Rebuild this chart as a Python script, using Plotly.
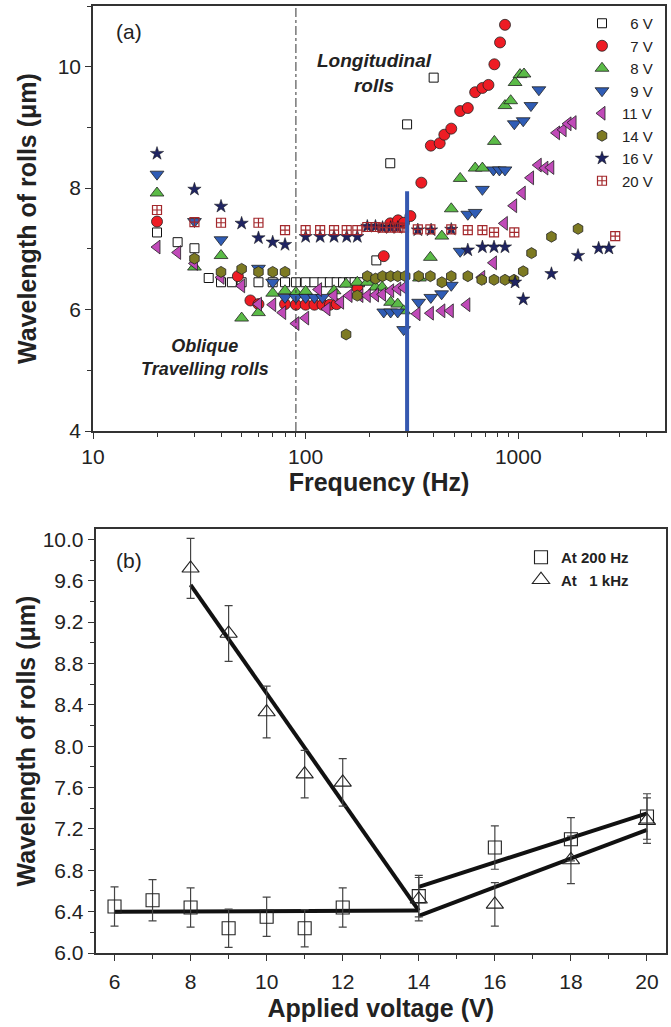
import plotly.graph_objects as go

# ---------------- Panel (a) data: frequency (Hz) vs wavelength (um) ----------------
f_6V = [20, 25, 30, 35, 40, 45, 50, 60, 70, 80, 90, 100, 110, 120, 130, 140, 150, 160, 170, 180, 215, 250, 300, 400]
w_6V = [7.27, 7.11, 7.01, 6.52, 6.45, 6.45, 6.45, 6.45, 6.45, 6.45, 6.45, 6.45, 6.45, 6.45, 6.45, 6.45, 6.45, 6.45, 6.45, 6.45, 6.81, 8.41, 9.05, 9.82]

f_7V = [20, 48, 55, 60, 80, 90, 100, 110, 120, 130, 140, 175, 233, 250, 272, 290, 311, 350, 388, 427, 449, 484, 533, 579, 627, 678, 724, 772, 821, 866]
w_7V = [7.45, 6.55, 6.15, 6.09, 6.09, 6.08, 6.08, 6.08, 6.08, 6.08, 6.09, 6.36, 6.88, 7.42, 7.47, 7.43, 7.54, 8.09, 8.70, 8.74, 8.88, 8.98, 9.27, 9.32, 9.58, 9.65, 9.70, 10.04, 10.40, 10.69]

f_8V = [20, 30, 40, 50, 60, 70, 80, 90, 100, 136, 155, 175, 195, 213, 229, 251, 271, 289, 343, 386, 437, 484, 533, 627, 678, 772, 866, 921, 966, 1019, 1064]
w_8V = [7.92, 6.70, 6.89, 5.86, 5.95, 6.27, 6.31, 6.28, 6.30, 6.31, 6.42, 6.45, 6.45, 6.37, 6.37, 6.12, 6.09, 5.98, 6.52, 6.86, 7.21, 7.66, 8.16, 8.33, 8.33, 8.77, 9.36, 9.44, 9.74, 9.87, 9.88]

f_9V = [20, 30, 40, 60, 70, 80, 90, 100, 110, 120, 233, 251, 271, 289, 340, 388, 436, 484, 533, 579, 627, 678, 764, 815, 866, 958, 1055, 1147, 1250]
w_9V = [8.23, 7.45, 7.15, 6.68, 6.45, 6.20, 6.20, 6.20, 6.20, 6.20, 5.96, 5.96, 5.96, 5.67, 6.12, 6.20, 6.26, 6.40, 6.96, 7.57, 7.60, 7.98, 8.30, 8.30, 8.30, 9.06, 9.11, 9.36, 9.62]

f_11V = [20, 25, 30, 40, 50, 60, 70, 78, 90, 100, 115, 126, 136, 146, 160, 180, 195, 213, 230, 251, 271, 290, 334, 386, 437, 479, 573, 673, 764, 860, 951, 1044, 1142, 1241, 1334, 1422, 1513, 1625, 1714, 1810]
w_11V = [7.03, 6.94, 6.76, 6.53, 6.39, 6.09, 6.08, 5.95, 5.77, 5.86, 6.33, 6.01, 6.23, 6.12, 6.23, 6.23, 6.23, 6.24, 6.25, 6.31, 6.34, 6.36, 5.93, 5.94, 5.98, 5.98, 6.08, 6.53, 6.77, 7.42, 7.71, 7.92, 8.17, 8.38, 8.33, 8.34, 8.91, 8.96, 9.06, 9.08]

f_14V = [30, 40, 50, 60, 70, 80, 155, 175, 195, 213, 230, 251, 271, 294, 340, 386, 437, 484, 579, 673, 769, 866, 955, 1055, 1154, 1432, 1910]
w_14V = [6.84, 6.62, 6.67, 6.62, 6.62, 6.62, 5.59, 6.23, 6.55, 6.51, 6.55, 6.55, 6.55, 6.55, 6.55, 6.55, 6.45, 6.55, 6.55, 6.49, 6.49, 6.49, 6.49, 6.63, 6.93, 7.20, 7.33]

f_16V = [20, 30, 40, 50, 60, 70, 80, 100, 117, 136, 156, 175, 195, 213, 230, 251, 271, 337, 389, 484, 579, 678, 769, 866, 966, 1055, 1432, 1910, 2388, 2668]
w_16V = [8.57, 7.98, 7.70, 7.42, 7.18, 7.11, 7.07, 7.20, 7.20, 7.20, 7.20, 7.20, 7.37, 7.37, 7.35, 7.35, 7.35, 7.31, 7.31, 7.32, 6.98, 7.03, 7.03, 7.03, 6.45, 6.17, 6.59, 6.89, 7.01, 7.01]

f_20V = [20, 30, 40, 60, 80, 100, 117, 136, 156, 175, 195, 213, 230, 251, 271, 290, 337, 386, 484, 579, 678, 769, 958, 2857]
w_20V = [7.64, 7.44, 7.43, 7.43, 7.31, 7.31, 7.31, 7.31, 7.31, 7.31, 7.36, 7.36, 7.35, 7.35, 7.35, 7.35, 7.32, 7.32, 7.32, 7.31, 7.31, 7.27, 7.27, 7.21]

series_names = ["\u20076 V", "\u20077 V", "\u20078 V", "\u20079 V", "11 V", "14 V", "16 V", "20 V"]

# reference lines in panel (a)
oblique_limit_hz = 90
longit_onset_hz = 300
longit_line_top = 7.95

# ---------------- Panel (b) data ----------------
volt_200 = [6, 7, 8, 9, 10, 11, 12, 14, 16, 18, 20]
wl_200 = [6.45, 6.51, 6.44, 6.24, 6.35, 6.24, 6.44, 6.55, 7.02, 7.10, 7.32]
err_200 = [0.19, 0.20, 0.19, 0.185, 0.19, 0.18, 0.19, 0.20, 0.21, 0.21, 0.22]

volt_1k = [8, 9, 10, 11, 12, 14, 16, 18, 20]
wl_1k = [9.72, 9.09, 8.33, 7.73, 7.65, 6.52, 6.47, 6.90, 7.28]
err_1k = [0.29, 0.27, 0.25, 0.23, 0.23, 0.21, 0.21, 0.23, 0.22]

fit_200_low_x = [6, 14]
fit_200_low_y = [6.40, 6.41]
fit_200_high_x = [14, 20]
fit_200_high_y = [6.64, 7.35]
fit_1k_low_x = [8, 14]
fit_1k_low_y = [9.56, 6.41]
fit_1k_high_x = [14, 20]
fit_1k_high_y = [6.36, 7.19]

# ---------------- Styling ----------------
W, H = 671, 1027
FONT = "Liberation Sans, Arial, sans-serif"
EDGE = "#222222"

styles = [
    dict(symbol="square", color="white", line=dict(color="#111", width=1.0), size=9),
    dict(symbol="circle", color="#ee1c24", line=dict(color=EDGE, width=0.8), size=11),
    dict(symbol="triangle-up", color="#5bbb47", line=dict(color=EDGE, width=0.8), size=12),
    dict(symbol="triangle-down", color="#2f5cb5", line=dict(color=EDGE, width=0.8), size=12),
    dict(symbol="triangle-left", color="#c04ab8", line=dict(color=EDGE, width=0.8), size=12),
    dict(symbol="hexagon", color="#7d7a22", line=dict(color=EDGE, width=0.8), size=11),
    dict(symbol="star", color="#1f2462", line=dict(color="#111", width=0.5), size=10),
    dict(symbol="square-cross-open", color="#a3282c", line=dict(color="#a3282c", width=1.2), size=9),
]

freqs = [f_6V, f_7V, f_8V, f_9V, f_11V, f_14V, f_16V, f_20V]
waves = [w_6V, w_7V, w_8V, w_9V, w_11V, w_14V, w_16V, w_20V]

fig = go.Figure()

for name, fx, wy, st in zip(series_names, freqs, waves, styles):
    fig.add_trace(go.Scatter(
        x=fx, y=wy, mode="markers", name=name,
        marker=st, xaxis="x", yaxis="y", legend="legend",
    ))

# Panel (b) fit lines
for lx, ly in [(fit_200_low_x, fit_200_low_y), (fit_200_high_x, fit_200_high_y),
               (fit_1k_low_x, fit_1k_low_y), (fit_1k_high_x, fit_1k_high_y)]:
    fig.add_trace(go.Scatter(x=lx, y=ly, mode="lines", line=dict(color="#111", width=4),
                             showlegend=False, xaxis="x2", yaxis="y2", hoverinfo="skip"))

fig.add_trace(go.Scatter(
    x=volt_200, y=wl_200, mode="markers", name="At 200 Hz",
    marker=dict(symbol="square-open", size=13, color="#222", line=dict(width=1.1)),
    error_y=dict(type="data", array=err_200, color="#444", thickness=1.2, width=4),
    xaxis="x2", yaxis="y2", legend="legend2"))
fig.add_trace(go.Scatter(
    x=volt_1k, y=wl_1k, mode="markers", name="At \u20071 kHz",
    marker=dict(symbol="triangle-up-open", size=15, color="#222", line=dict(width=1.1)),
    error_y=dict(type="data", array=err_1k, color="#444", thickness=1.2, width=4),
    xaxis="x2", yaxis="y2", legend="legend2"))

axis_common = dict(
    showline=True, linecolor="#333", linewidth=1.5, mirror=True,
    ticks="outside", ticklen=6, tickwidth=1.2, tickcolor="#333",
    showgrid=False, zeroline=False, automargin=False,
    tickfont=dict(family=FONT, size=21, color="#222"),
)
title_font = dict(family=FONT, size=25, color="#222", weight="bold")

fig.update_layout(
    width=W, height=H, margin=dict(l=0, r=0, t=0, b=0, autoexpand=False),
    paper_bgcolor="white", plot_bgcolor="white",
    font=dict(family=FONT, color="#222"),
    xaxis=dict(domain=[93/W, 665/W], anchor="y", type="log", range=[1, 3.69],
               tickvals=[10, 100, 1000], ticktext=["10", "100", "1000"], ticklabelstandoff=0,
               minor=dict(ticks="outside", ticklen=4, tickcolor="#333",
                          tickvals=[20, 30, 40, 50, 60, 70, 80, 90, 200, 300, 400, 500, 600, 700, 800, 900,
                                    2000, 3000, 4000, 5000]),
               title=dict(text="Frequency (Hz)", font=title_font, standoff=6),
               **axis_common),
    yaxis=dict(domain=[1 - 431/H, 1 - 6/H], anchor="x", range=[4, 11], tick0=4, dtick=2,
               minor=dict(ticks="outside", ticklen=4, tickcolor="#333", dtick=1),
               title=dict(text="Wavelength of rolls (\u03bcm)", font=title_font, standoff=14),
               **axis_common),
    xaxis2=dict(domain=[95.5/W, 666/W], anchor="y2", range=[5.5, 20.5], tick0=6, dtick=2,
                ticklabelstandoff=3,
                minor=dict(ticks="outside", ticklen=4, tickcolor="#333", dtick=1),
                title=dict(text="Applied voltage (V)", font=title_font, standoff=8),
                **axis_common),
    yaxis2=dict(domain=[1 - 953/H, 1 - 529/H], anchor="x2", range=[6.0, 10.1], tick0=6, dtick=0.4,
                tickformat=".1f",
                minor=dict(ticks="outside", ticklen=4, tickcolor="#333", dtick=0.2),
                title=dict(text="Wavelength of rolls (\u03bcm)", font=title_font, standoff=0),
                **axis_common),
    legend=dict(x=582/W, y=1 - 7/H, xanchor="left", yanchor="top", bgcolor="rgba(0,0,0,0)",
                font=dict(family=FONT, size=15, color="#222"), tracegroupgap=0, itemwidth=30),
    legend2=dict(x=521/W, y=1 - 541/H, xanchor="left", yanchor="top", bgcolor="rgba(0,0,0,0)",
                 font=dict(family=FONT, size=15, color="#222", weight="bold"), itemwidth=30),
    showlegend=True,
)

# Reference lines (panel a)
fig.add_shape(type="line", xref="x", yref="y", x0=oblique_limit_hz, x1=oblique_limit_hz, y0=4, y1=11,
              line=dict(color="#333", width=1, dash="dashdot"))
fig.add_shape(type="line", xref="x", yref="y", x0=longit_onset_hz, x1=longit_onset_hz, y0=4, y1=longit_line_top,
              line=dict(color="#3558b0", width=4))

ann_font_bi = dict(family=FONT, size=18, color="#222", weight="bold", style="italic")
fig.add_annotation(x=2.3255, y=9.89, xref="x", yref="y", text="Longitudinal<br>rolls",
                   showarrow=False, font=dict(ann_font_bi, size=19), align="center")
fig.add_annotation(x=1.5246, y=5.21, xref="x", yref="y", text="Oblique<br>Travelling rolls",
                   showarrow=False, font=ann_font_bi, align="center")
fig.add_annotation(x=129/W, y=1 - 32/H, xref="paper", yref="paper", text="(a)",
                   xanchor="center", yanchor="middle",
                   showarrow=False, font=dict(family=FONT, size=21, color="#222"))
fig.add_annotation(x=129/W, y=1 - 560/H, xref="paper", yref="paper", text="(b)",
                   xanchor="center", yanchor="middle",
                   showarrow=False, font=dict(family=FONT, size=21, color="#222"))

fig.write_html("out.html")
